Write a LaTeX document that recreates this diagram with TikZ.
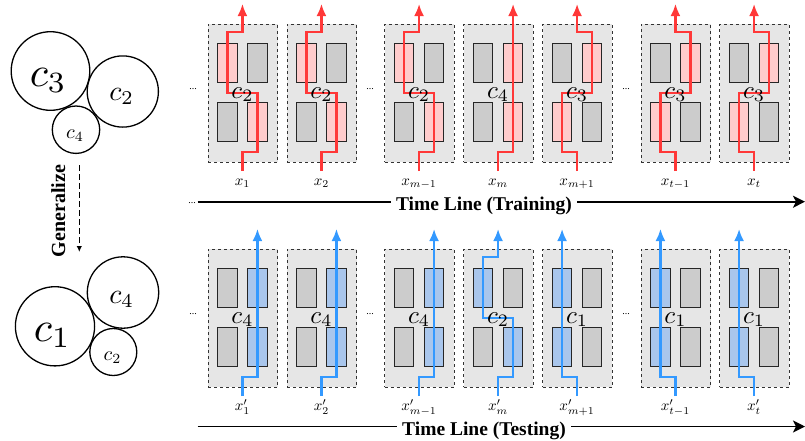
\documentclass[tikz,border=0pt]{standalone}
\usepackage[no-math]{fontspec}
\setmainfont{Liberation Serif}
\usetikzlibrary{arrows.meta}

\definecolor{boxbg}{HTML}{E6E6E6}
\definecolor{cellgray}{HTML}{CCCCCC}
\definecolor{cellpink}{HTML}{FFCCCC}
\definecolor{cellblue}{HTML}{A9C6EC}
\definecolor{routered}{HTML}{FF3838}
\definecolor{routeblue}{HTML}{3399FF}

\tikzset{
  block/.style={draw=black!80, dashed, line width=0.8pt, fill=boxbg,
    minimum width=69.5pt, minimum height=138pt, inner sep=0pt, anchor=north west},
  cell/.style={draw=black!85, line width=0.8pt, minimum width=19.5pt,
    minimum height=39.3pt, inner sep=0pt},
  off/.style={cell, fill=cellgray},
  route/.style={line width=2.1pt, -{Latex[length=12pt,width=10pt]}},
  boxlab/.style={anchor=base, inner sep=0pt, scale=2.5},
  inlab/.style={anchor=base, inner sep=0pt, scale=1.5},
  gap/.style={anchor=base, inner sep=0pt, font=\fontsize{10}{12}\selectfont},
  circ/.style={circle, draw=black, line width=1.3pt, inner sep=0pt},
  clab/.style={anchor=base, inner sep=0pt},
  timeline/.style={line width=1.9pt, -{Stealth[length=12pt,width=12pt,inset=3pt]}},
  tltext/.style={anchor=base, fill=white, inner xsep=5pt, inner ysep=2pt,
    font=\fontsize{19.5}{23}\selectfont\bfseries},
  gen/.style={line width=1.3pt, dash pattern=on 5.5pt off 3.5pt,
    -{Latex[length=6pt,width=5.5pt]}},
}

% one row of seven gated blocks: #1 row tag, #2 top edge, #3 list of left/pattern/input
\newcommand\blockrow[3]{%
  \foreach \bx/\pat/\inp [count=\k] in {#3} {
    \ifcase\pat\or
      \def\sTL{on}\def\sTR{off}\def\sBL{on}\def\sBR{off}%
    \or
      \def\sTL{on}\def\sTR{off}\def\sBL{off}\def\sBR{on}%
    \or
      \def\sTL{off}\def\sTR{on}\def\sBL{on}\def\sBR{off}%
    \or
      \def\sTL{off}\def\sTR{on}\def\sBL{off}\def\sBR{on}%
    \fi
    \node[block] (#1b\k) at (\bx,#2) {};
    \node[\sTL] (#1b\k-tl) at (\bx+19.75,#2+39.1) {};
    \node[\sTR] (#1b\k-tr) at (\bx+49.75,#2+39.1) {};
    \node[\sBL] (#1b\k-bl) at (\bx+19.75,#2+98) {};
    \node[\sBR] (#1b\k-br) at (\bx+49.75,#2+98) {};
    \coordinate (#1in\k) at (\bx+34.75,#2+147);
    \ifcase\pat\or
      \draw[route] (#1in\k) -- ++(0,-19.3) -- ++(-15,0) -- ++(0,-147.7);
    \or
      \draw[route] (#1in\k) -- ++(0,-19.3) -- ++(15,0) -- ++(0,-59)
        -- ++(-30,0) -- ++(0,-60.4) -- ++(15,0) -- ++(0,-28.3);
    \or
      \draw[route] (#1in\k) -- ++(0,-19.3) -- ++(-15,0) -- ++(0,-59)
        -- ++(30,0) -- ++(0,-60.4) -- ++(-15,0) -- ++(0,-28.3);
    \or
      \draw[route] (#1in\k) -- ++(0,-19.3) -- ++(15,0) -- ++(0,-147.7);
    \fi
    \node[boxlab] (#1c\k) at (\bx+34.75,#2+74) {$c_{\pat}$};
    \node[inlab] (#1x\k) at (\bx+34.75,#2+161.5) {$\inp$};
  }%
}

\begin{document}
\begin{tikzpicture}[x=1pt, y=-1pt]
\useasboundingbox (0,0) rectangle (805,440);

% ---- cluster memberships ----
\node[circ, minimum size=78.6pt] (u3) at (50.5,71) {};
\node[circ, minimum size=71.2pt] (u2) at (122.8,91.5) {};
\node[circ, minimum size=47.4pt] (u4) at (76,129.7) {};
\node[clab, scale=4.2] (u3l) at (48.3,86.5) {$c_3$};
\node[clab, scale=2.8] (u2l) at (121.7,100) {$c_2$};
\node[clab, scale=2.0] (u4l) at (75,138.5) {$c_4$};

\node[circ, minimum size=79.2pt] (v1) at (55,326.3) {};
\node[circ, minimum size=71.4pt] (v4) at (123,292.5) {};
\node[circ, minimum size=47pt] (v2) at (113.3,352) {};
\node[clab, scale=4.2] (v1l) at (52.5,341.5) {$c_1$};
\node[clab, scale=2.8] (v4l) at (121.7,303.3) {$c_4$};
\node[clab, scale=2.0] (v2l) at (112.5,360) {$c_2$};

\coordinate (g-a) at (79.3,165);
\coordinate (g-b) at (79.3,252);
\draw[gen] (g-a) -- (g-b);
\node[anchor=base, rotate=90, inner sep=0pt, font=\fontsize{20}{24}\selectfont\bfseries]
  (glab) at (65,211) {Generalize};

% ---- training row ----
\begin{scope}[on/.style={cell, fill=cellpink}, route/.append style={draw=routered}]
\blockrow{t}{24}{207.7/2/{x_1}, 286.7/2/{x_2}, 384.3/2/{x_{m-1}}, 463.3/4/{x_m},
  542.3/3/{x_{m+1}}, 640.7/3/{x_{t-1}}, 719.3/3/{x_t}}
\end{scope}
\node[gap] (td1) at (193,89) {...};
\node[gap] (td2) at (370,89) {...};
\node[gap] (td3) at (626,89) {...};

% ---- testing row ----
\begin{scope}[on/.style={cell, fill=cellblue}, route/.append style={draw=routeblue}]
\blockrow{s}{249}{207.7/4/{x'_1}, 286.7/4/{x'_2}, 384.3/4/{x'_{m-1}}, 463.3/2/{x'_m},
  542.3/1/{x'_{m+1}}, 640.7/1/{x'_{t-1}}, 719.3/1/{x'_t}}
\end{scope}
\node[gap] (sd1) at (193,314) {...};
\node[gap] (sd2) at (370,314) {...};
\node[gap] (sd3) at (626,314) {...};

% ---- time lines ----
\coordinate (ta) at (197.7,201.7);
\coordinate (tb) at (805,201.7);
\draw[timeline] (ta) -- (tb);
\node[gap] (tdots) at (192,203) {...};
\node[tltext] (ttl) at (484,210.5) {Time Line (Training)};

\coordinate (sa) at (197.7,426.5);
\coordinate (sb) at (805,426.5);
\draw[timeline] (sa) -- (sb);
\node[tltext] (stl) at (484,435) {Time Line (Testing)};
\end{tikzpicture}
\end{document}
